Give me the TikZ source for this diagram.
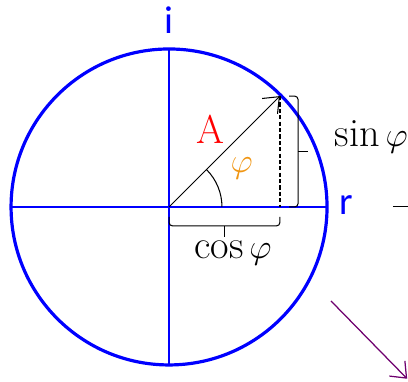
\documentclass[tikz,border=0pt]{standalone}
\usepackage{fontspec}
\newfontfamily\axisfont{Carlito}
\usetikzlibrary{calc,arrows.meta}
\definecolor{phaseorange}{RGB}{240,150,20}
\definecolor{turnpurple}{RGB}{110,0,110}
\tikzset{
  unitcircle/.style={draw=blue,line width=2.3pt},
  axisline/.style={blue,line width=1.1pt},
  axislabel/.style={blue,inner sep=0pt,font=\axisfont\fontsize{28}{30}\selectfont},
  vecarr/.style={-{Straight Barb[length=3.4mm,width=5.5mm]},line width=0.75pt},
  projline/.style={dash pattern=on 3pt off 1.6pt,line width=1pt},
  bracket/.style={line width=0.75pt,rounded corners=2.5pt},
  biglabel/.style={inner sep=0pt,font=\fontsize{29}{32}\selectfont},
  turnarr/.style={-{Straight Barb[length=3.4mm,width=5.5mm]},turnpurple,line width=0.9pt}
}
\begin{document}
\begin{tikzpicture}
  \useasboundingbox (-4.28,-4.43) rectangle (6.05,5.24);
  % circle and axes
  \coordinate (O) at (0,0);
  \draw[unitcircle] (O) circle (4);
  \draw[axisline] (-4,0) -- (4,0);
  \draw[axisline] (0,-4) -- (0,4);
  \node[axislabel] (imag) at (0,4.73) {i};
  \node[axislabel] (real) at (4.48,0.05) {r};
  % phasor and projections
  \coordinate (P) at (45:3.97);
  \coordinate (F) at (P |- O);
  \draw[vecarr] (O) -- (P);
  \draw[projline] (P) -- (F);
  \draw[line width=0.75pt] (0:1.34) arc (0:45:1.34);
  \node[biglabel,red] (amp) at (1.04,1.96) {A};
  \node[biglabel,text=phaseorange] (phi) at (1.84,0.97) {$\varphi$};
  % brackets
  \coordinate (sintop) at ([xshift=0.23cm]P);
  \coordinate (sinbot) at ([xshift=0.23cm]F);
  \draw[bracket] (sintop) -- ++(0.23,0) -- ($(sinbot)+(0.23,0)$) -- (sinbot);
  \draw[bracket] ($(sintop)!.5!(sinbot)+(0.23,0)$) -- ++(0.25,0);
  \node[biglabel] (sinlab) at (5.12,1.77) {$\sin\varphi$};
  \coordinate (cosleft) at (0,-0.25);
  \coordinate (cosright) at ([yshift=-0.25cm]F);
  \draw[bracket] (cosleft) -- ++(0,-0.23) -- ($(cosright)+(0,-0.23)$) -- (cosright);
  \draw[bracket] ($(cosleft)!.5!(cosright)+(0,-0.23)$) -- ++(0,-0.27);
  \node[biglabel] (coslab) at (1.62,-1.16) {$\cos\varphi$};
  % cut-off pieces at the right
  \coordinate (dashA) at (5.67,0.02);
  \coordinate (dashB) at (6.1,0.02);
  \draw[line width=0.8pt] (dashA) -- (dashB);
  \coordinate (turnA) at (4.10,-2.38);
  \coordinate (turnB) at (6.03,-4.35);
  \draw[turnarr] (turnA) -- (turnB);
\end{tikzpicture}
\end{document}
